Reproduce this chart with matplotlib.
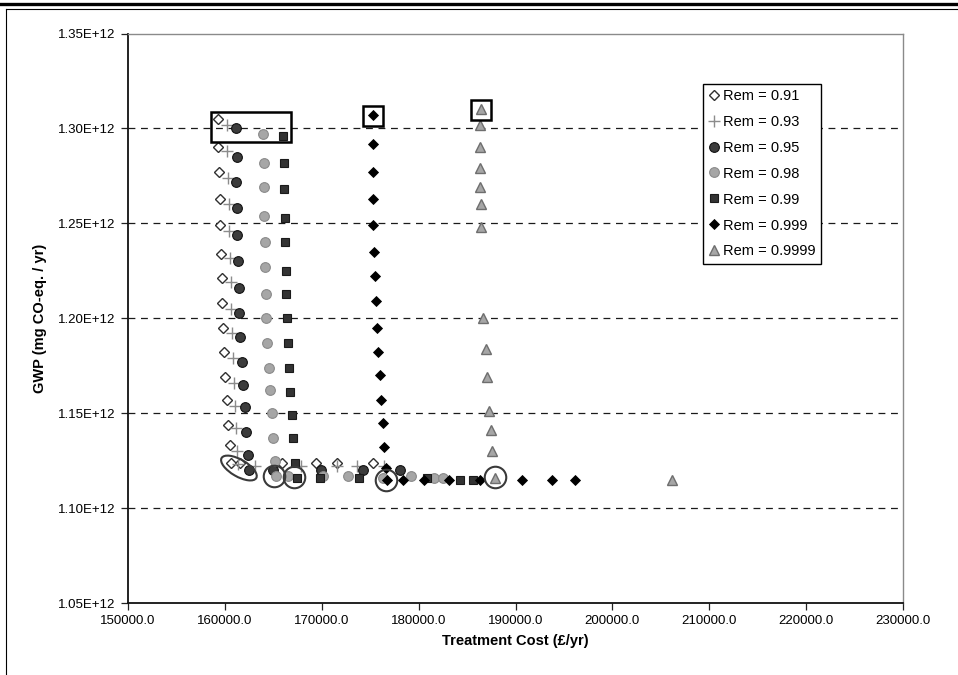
import matplotlib
matplotlib.use("Agg")
import matplotlib.pyplot as plt
from matplotlib.lines import Line2D
from matplotlib.patches import Rectangle, Ellipse
from matplotlib.transforms import ScaledTranslation

plt.rcParams['font.family'] = ['Liberation Sans', 'DejaVu Sans']

# ---------------- data ----------------
x_091 = [159300, 159300, 159400, 159500, 159500, 159600, 159700, 159700, 159800, 159900,
         160000, 160200, 160300, 160500, 160600, 161600, 165900, 169400, 171600, 175300]
y_091 = [1.305, 1.290, 1.277, 1.263, 1.249, 1.234, 1.221, 1.208, 1.195, 1.182,
         1.169, 1.157, 1.144, 1.133, 1.124, 1.124, 1.124, 1.124, 1.124, 1.124]

x_093 = [160200, 160200, 160300, 160400, 160400, 160500, 160600, 160600, 160700, 160800,
         160900, 161000, 161100, 161200, 161350, 163100, 167850, 171550, 173650, 176400]
y_093 = [1.302, 1.288, 1.274, 1.260, 1.246, 1.232, 1.219, 1.205, 1.192, 1.179,
         1.166, 1.154, 1.142, 1.130, 1.123, 1.122, 1.122, 1.122, 1.122, 1.122]

x_095 = [161150, 161250, 161150, 161250, 161250, 161350, 161450, 161450, 161550, 161750,
         161850, 162050, 162150, 162400, 162500, 164950, 169900, 174250, 178050]
y_095 = [1.300, 1.285, 1.272, 1.258, 1.244, 1.230, 1.216, 1.203, 1.190, 1.177,
         1.165, 1.153, 1.140, 1.128, 1.120, 1.120, 1.120, 1.120, 1.120]

x_098 = [163950, 164050, 164050, 164050, 164150, 164150, 164250, 164250, 164350, 164550,
         164650, 164850, 164950, 165150, 165250, 166500, 170100, 172700, 176300, 179200,
         181600, 182500]
y_098 = [1.297, 1.282, 1.269, 1.254, 1.240, 1.227, 1.213, 1.200, 1.187, 1.174,
         1.162, 1.150, 1.137, 1.125, 1.117, 1.117, 1.117, 1.117, 1.116, 1.117,
         1.116, 1.116]

x_099 = [166000, 166100, 166100, 166200, 166200, 166300, 166300, 166400, 166500, 166600,
         166700, 166900, 167000, 167250, 167450, 169800, 173850, 180850, 184250, 185600]
y_099 = [1.296, 1.282, 1.268, 1.253, 1.240, 1.225, 1.213, 1.200, 1.187, 1.174,
         1.161, 1.149, 1.137, 1.124, 1.116, 1.116, 1.116, 1.116, 1.115, 1.115]

x_0999 = [175300, 175300, 175300, 175300, 175300, 175400, 175500, 175600, 175700, 175800,
          176000, 176100, 176300, 176400, 176600, 176750, 178400, 180550, 183150, 186350,
          190650, 193750, 196150]
y_0999 = [1.307, 1.292, 1.277, 1.263, 1.249, 1.235, 1.222, 1.209, 1.195, 1.182,
          1.170, 1.157, 1.145, 1.132, 1.121, 1.115, 1.115, 1.115, 1.115, 1.115,
          1.115, 1.115, 1.115]

x_09999 = [186450, 186350, 186350, 186350, 186350, 186450, 186450, 186650, 186950, 187050,
           187250, 187450, 187550, 187900, 206150]
y_09999 = [1.310, 1.302, 1.290, 1.279, 1.269, 1.260, 1.248, 1.200, 1.184, 1.169,
           1.151, 1.141, 1.130, 1.116, 1.115]

labels = ["Rem = 0.91", "Rem = 0.93", "Rem = 0.95", "Rem = 0.98",
          "Rem = 0.99", "Rem = 0.999", "Rem = 0.9999"]

x_ticks = [150000, 160000, 170000, 180000, 190000, 200000, 210000, 220000, 230000]
y_ticks = [1.05, 1.10, 1.15, 1.20, 1.25, 1.30, 1.35]
grid_levels = [1.10, 1.15, 1.20, 1.25, 1.30]

# annotation targets (data coordinates)
circle_x = [165050, 167150, 176600, 187900]
circle_y = [1.1170, 1.1163, 1.1148, 1.1163]
box_x = [175300, 186450]
box_y = [1.3065, 1.3097]
rect_x0, rect_x1 = 158550, 166800
rect_y0, rect_y1 = 1.2928, 1.3087
ell_x, ell_y = 161450, 1.1211

# ---------------- figure ----------------
fig = plt.figure(figsize=(9.58, 6.75), dpi=100)
ax = fig.add_axes([128/958, 72/675, 775/958, 569.5/675])

E = 1e12
ax.plot(x_091, [v*E for v in y_091], ls='none', marker='D', ms=5.2, mfc='white',
        mec='#303030', mew=1.0, label=labels[0], zorder=3)
ax.plot(x_093, [v*E for v in y_093], ls='none', marker='+', ms=8, mec='#8c8c8c',
        mew=1.0, label=labels[1], zorder=3)
ax.plot(x_095, [v*E for v in y_095], ls='none', marker='o', ms=7, mfc='#3c3c3c',
        mec='#111111', mew=0.8, label=labels[2], zorder=3)
ax.plot(x_098, [v*E for v in y_098], ls='none', marker='o', ms=7, mfc='#a6a6a6',
        mec='#8a8a8a', mew=0.8, label=labels[3], zorder=3)
ax.plot(x_099, [v*E for v in y_099], ls='none', marker='s', ms=6.3, mfc='#333333',
        mec='#1a1a1a', mew=0.8, label=labels[4], zorder=3)
ax.plot(x_0999, [v*E for v in y_0999], ls='none', marker='D', ms=5.6, mfc='#000000',
        mec='#000000', mew=0.6, label=labels[5], zorder=3)
ax.plot(x_09999, [v*E for v in y_09999], ls='none', marker='^', ms=7, mfc='#a6a6a6',
        mec='#6e6e6e', mew=1.0, label=labels[6], zorder=3)

# annotations
ax.plot(circle_x, [v*E for v in circle_y], ls='none', marker='o', ms=15.5,
        mfc='none', mec='#3a3a3a', mew=1.5, zorder=4)
ax.plot(box_x, [v*E for v in box_y], ls='none', marker='s', ms=14, mfc='none',
        mec='#000000', mew=1.8, zorder=4)
ax.add_patch(Rectangle((rect_x0, rect_y0*E), rect_x1-rect_x0, (rect_y1-rect_y0)*E,
                       fill=False, ec='black', lw=1.8, zorder=4))
ell = Ellipse((0, 0), width=0.40, height=0.17, angle=-30, fill=False,
              ec='#3a3a3a', lw=1.5,
              transform=fig.dpi_scale_trans + ScaledTranslation(ell_x, ell_y*E, ax.transData),
              zorder=4)
ax.add_artist(ell)

# grid
for g in grid_levels:
    ax.axhline(g*E, color='#1a1a1a', lw=0.9, dashes=(5.5, 4.5), zorder=1)

ax.set_xlim(150000, 230000)
ax.set_ylim(1.05*E, 1.35*E)
ax.set_xticks(x_ticks)
ax.set_xticklabels([f"{v:.1f}" for v in x_ticks], fontsize=9.5)
ax.set_yticks([v*E for v in y_ticks])
ax.set_yticklabels([f"{v:.2f}E+12" for v in y_ticks], fontsize=9.5)
ax.tick_params(axis='both', direction='out', length=5, width=0.9, color='#222222', pad=4)

for s in ['left', 'bottom']:
    ax.spines[s].set_color('#111111')
    ax.spines[s].set_linewidth(1.3)
for s in ['top', 'right']:
    ax.spines[s].set_color('#8a8a8a')
    ax.spines[s].set_linewidth(1.0)

ax.set_xlabel("Treatment Cost (£/yr)", fontsize=10.5, fontweight='bold', labelpad=5)
ax.set_ylabel("GWP (mg CO-eq. / yr)", fontsize=10.5, fontweight='bold', labelpad=8)

leg = ax.legend(loc='upper right', bbox_to_anchor=(0.894, 0.912), fontsize=10.5,
                frameon=True, fancybox=False, edgecolor='black', framealpha=1,
                borderpad=0.35, labelspacing=0.82, handletextpad=0.3,
                handlelength=0.7, borderaxespad=0)
leg.get_frame().set_linewidth(1.0)

# outer frame lines
fig.add_artist(Line2D([0, 1], [1 - 4/675]*2, color='black', lw=2.4, transform=fig.transFigure))
fig.add_artist(Line2D([6/958, 1], [1 - 9/675]*2, color='black', lw=0.8, transform=fig.transFigure))
fig.add_artist(Line2D([6/958]*2, [0, 1 - 9/675], color='black', lw=0.8, transform=fig.transFigure))

fig.savefig("out.png", dpi=100)
